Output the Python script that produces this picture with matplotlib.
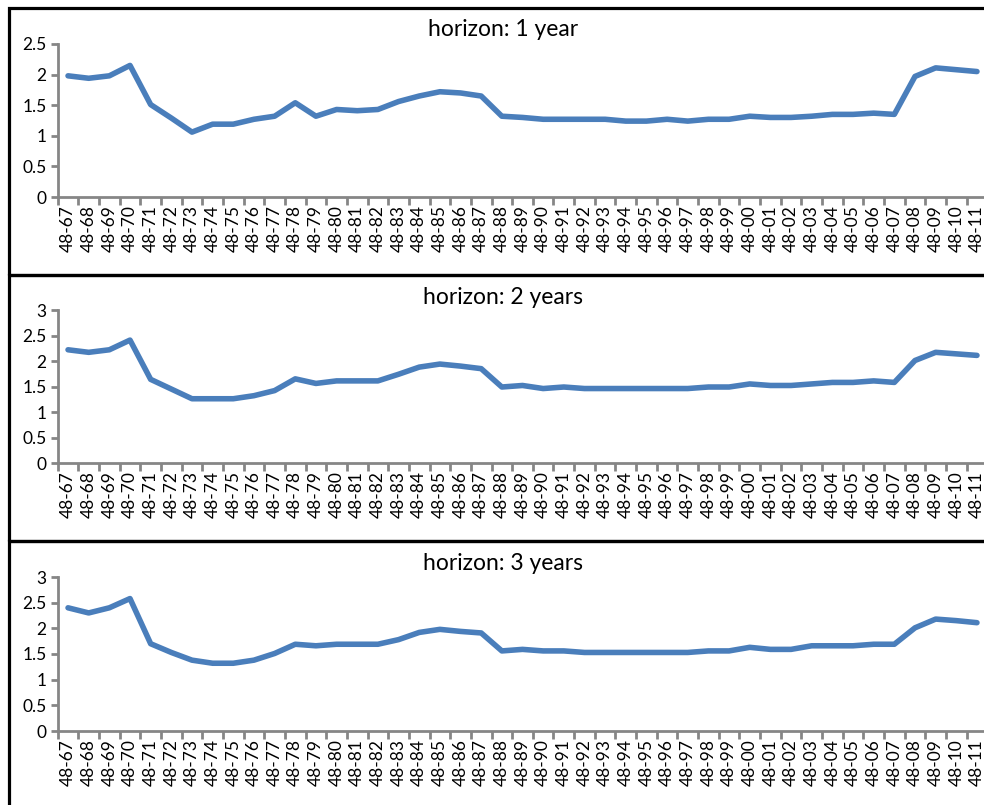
import matplotlib
matplotlib.use("Agg")
import matplotlib.pyplot as plt
from matplotlib.patches import Rectangle

plt.rcParams['font.family'] = ['Lato', 'DejaVu Sans']

years = [f"{y:02d}" for y in list(range(67, 100)) + list(range(0, 12))]
labels = ["48-" + y for y in years]

h1 = [1.98, 1.94, 1.98, 2.15, 1.51, 1.29, 1.06, 1.19, 1.19, 1.27, 1.32, 1.54, 1.32,
      1.43, 1.41, 1.43, 1.56, 1.65, 1.72, 1.70, 1.65,
      1.32, 1.30, 1.27, 1.27, 1.27, 1.27, 1.24, 1.24, 1.27, 1.24, 1.27, 1.27,
      1.32, 1.30, 1.30, 1.32, 1.35, 1.35, 1.37, 1.35, 1.97, 2.11, 2.08, 2.05]
h2 = [2.22, 2.17, 2.22, 2.41, 1.64, 1.45, 1.26, 1.26, 1.26, 1.32, 1.42, 1.65, 1.56,
      1.61, 1.61, 1.61, 1.74, 1.88, 1.94, 1.90, 1.85,
      1.49, 1.52, 1.46, 1.49, 1.46, 1.46, 1.46, 1.46, 1.46, 1.46, 1.49, 1.49,
      1.55, 1.52, 1.52, 1.55, 1.58, 1.58, 1.61, 1.58, 2.01, 2.17, 2.14, 2.11]
h3 = [2.40, 2.30, 2.40, 2.58, 1.70, 1.53, 1.38, 1.32, 1.32, 1.38, 1.51, 1.69, 1.66,
      1.69, 1.69, 1.69, 1.78, 1.92, 1.98, 1.94, 1.91,
      1.56, 1.59, 1.56, 1.56, 1.53, 1.53, 1.53, 1.53, 1.53, 1.53, 1.56, 1.56,
      1.63, 1.59, 1.59, 1.66, 1.66, 1.66, 1.69, 1.69, 2.01, 2.18, 2.15, 2.11]

series = [h1, h2, h3]
titles = ["horizon: 1 year", "horizon: 2 years", "horizon: 3 years"]
ymaxes = [2.5, 3, 3]
yticks = [[0, 0.5, 1, 1.5, 2, 2.5], [0, 0.5, 1, 1.5, 2, 2.5, 3], [0, 0.5, 1, 1.5, 2, 2.5, 3]]

W, H = 984, 805
fig = plt.figure(figsize=(W / 100, H / 100), dpi=100)

axpix = [(197, 44), (463, 310), (731, 577)]
boxes = [(8, 275), (275, 541), (541, 830)]
title_y = [30, 297, 563]
x_left = 57.7
x_right = 987.3

gray = "#868686"
blue = "#4a7ebb"

for i in range(3):
    y0, yt = axpix[i]
    ax = fig.add_axes([x_left / W, 1 - y0 / H, (x_right - x_left) / W, (y0 - yt) / H])
    ax.plot(range(len(labels)), series[i], color=blue, lw=4.0, solid_capstyle='round',
            solid_joinstyle='round', clip_on=False)
    ax.set_xlim(-0.5, len(labels) - 0.5)
    ax.set_ylim(0, ymaxes[i])
    ax.set_yticks(yticks[i])
    ax.set_yticklabels([f"{v:g}" for v in yticks[i]], fontsize=12.5)
    ax.set_xticks(range(len(labels)))
    ax.set_xticklabels(labels, rotation=90, fontsize=12.5)
    ax.set_xticks([k - 0.5 for k in range(len(labels) + 1)], minor=True)
    ax.tick_params(axis='x', which='major', length=0, pad=6)
    ax.tick_params(axis='x', which='minor', length=6, width=2, color=gray)
    ax.tick_params(axis='y', length=5, width=2, color=gray, pad=3)
    for s in ['top', 'right']:
        ax.spines[s].set_visible(False)
    for s in ['left', 'bottom']:
        ax.spines[s].set_color(gray)
        ax.spines[s].set_linewidth(2)
    ax.patch.set_alpha(0)
    fig.text(503 / W, 1 - title_y[i] / H, titles[i], ha='center', va='center', fontsize=16.5)
    bt, bb = boxes[i]
    fig.patches.append(Rectangle((9 / W, 1 - bb / H), 1.2, (bb - bt) / H, transform=fig.transFigure,
                                 fill=False, edgecolor='black', lw=2.3, zorder=10))

fig.savefig("out.png", dpi=100)
